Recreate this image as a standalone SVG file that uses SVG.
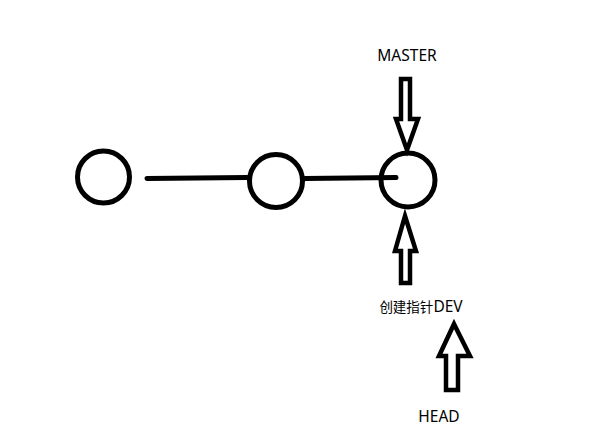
<svg xmlns="http://www.w3.org/2000/svg" width="607" height="436" viewBox="0 0 607 436">
<style>
.n{fill:none;stroke:#000;stroke-width:5}
.c{fill:none;stroke:#000;stroke-width:5;stroke-linecap:round}
.a{fill:#fff;stroke:#000;stroke-width:4.5;stroke-linejoin:miter}
.t{font-family:"Noto Sans","Noto Sans CJK SC",sans-serif;font-size:15.5px;fill:#000;text-anchor:middle}
.z{font-size:13.5px}
</style>
<rect width="607" height="436" fill="#fff"/>
<g id="connectors">
<path class="c" d="M147 178.5 L247 177.5"/>
<path class="c" d="M305 178.5 L396 177.5"/>
</g>
<g id="node1"><circle class="n" cx="103.5" cy="177" r="26"/></g>
<g id="node2"><circle class="n" cx="276" cy="181" r="26.5"/></g>
<g id="node3"><circle class="n" cx="408" cy="180" r="27"/></g>
<g id="master">
<polygon class="a" points="401,79 410,79 410,119 418,119 407,150 396,119 401,119"/>
<text class="t" x="407" y="61">MASTER</text>
</g>
<g id="dev">
<polygon class="a" points="405,216 416,251 410,251 410,283 401,283 401,251 395,251"/>
<text class="t" x="421" y="312"><tspan class="z">创建指针</tspan>DEV</text>
</g>
<g id="head">
<polygon class="a" points="454,324 470,356 458,356 458,390 446,390 446,356 439,356"/>
<text class="t" x="439" y="422">HEAD</text>
</g>
</svg>
